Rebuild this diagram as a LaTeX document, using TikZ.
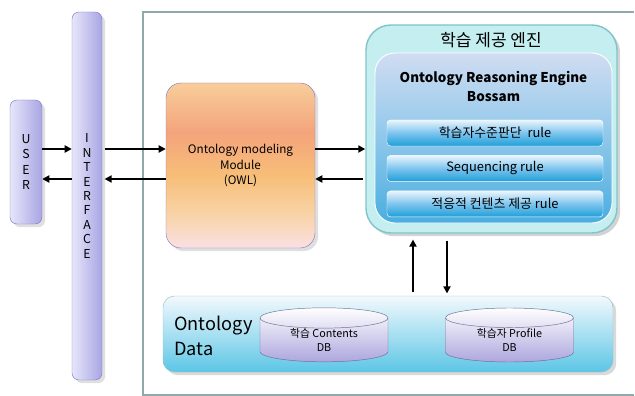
\documentclass[tikz,border=0pt]{standalone}
\usepackage{fontspec}
\setmainfont{Noto Sans CJK KR}
\usetikzlibrary{arrows.meta,shapes.geometric,shadows,positioning}
\def\pxu{0.03cm}
\definecolor{lavleft}{HTML}{E6E6FA}
\definecolor{lavright}{HTML}{A9A5E3}
\definecolor{lavline}{HTML}{7D74CC}
\definecolor{modline}{HTML}{8A7CC8}
\definecolor{modA}{HTML}{FBEBD8}
\definecolor{modB}{HTML}{FBE2EE}
\definecolor{modC}{HTML}{F8D4A8}
\definecolor{modD}{HTML}{F7BE78}
\definecolor{modE}{HTML}{F4A47C}
\definecolor{modF}{HTML}{F8D09C}
\definecolor{modG}{HTML}{FBE4E4}
\definecolor{engfill}{HTML}{C4EEF0}
\definecolor{engline}{HTML}{80C4C8}
\definecolor{inA}{HTML}{1E8CC8}
\definecolor{inB}{HTML}{4AAEE0}
\definecolor{inC}{HTML}{9CCCEC}
\definecolor{inD}{HTML}{D8DFF2}
\definecolor{inE}{HTML}{F6E8F8}
\definecolor{ruletop}{HTML}{EAF5FD}
\definecolor{rulemid}{HTML}{7CC4EE}
\definecolor{rulebot}{HTML}{1E9FD8}
\definecolor{datatop}{HTML}{F3F9FD}
\definecolor{databot}{HTML}{5CC6E6}
\definecolor{dataline}{HTML}{9ABFD0}
\definecolor{dbbot}{HTML}{ADA6DE}
\definecolor{dbline}{HTML}{707090}
\definecolor{framec}{HTML}{8FAAAA}
\pgfdeclareverticalshading{modshade}{100bp}{color(0bp)=(modA); color(23bp)=(modB); color(35bp)=(modC); color(47bp)=(modD); color(60bp)=(modE); color(76bp)=(modF); color(100bp)=(modG)}
\pgfdeclareverticalshading{innershade}{100bp}{color(0bp)=(inA); color(25bp)=(inB); color(55bp)=(inC); color(78bp)=(inD); color(100bp)=(inE)}

\begin{document}
\begin{tikzpicture}[x=\pxu, y=-\pxu,
    every node/.style={inner sep=0pt, align=center},
    arr/.style={line width=1.8pt, -{Triangle[length=6pt,width=6pt]}},
    lav/.style={draw=lavline, rounded corners=6pt, left color=lavleft, right color=lavright, drop shadow={opacity=0.25}},
    rulebox/.style={draw=white, rounded corners=3pt, top color=ruletop, bottom color=rulebot, middle color=rulemid,
        minimum width=216*\pxu, minimum height=26*\pxu, font=\fontsize{11}{13}\selectfont},
    db/.style={cylinder, shape border rotate=90, aspect=0.3, draw=dbline, top color=white, bottom color=dbbot,
        minimum width=128*\pxu, minimum height=54*\pxu, font=\fontsize{9.2}{12}\selectfont}]
    \useasboundingbox (0,0) rectangle (635,396);
    \draw[framec, line width=1pt] (634,12) -- (143,12) -- (143,395) -- (634,395);
    \node[lav, minimum width=32*\pxu, minimum height=124*\pxu, font=\fontsize{10.5}{13.2}\selectfont] (user) at (26,162) {U\\S\\E\\R};
    \node[lav, minimum width=30*\pxu, minimum height=368*\pxu, font=\fontsize{10.5}{12.3}\selectfont] (iface) at (87,196) {I\\N\\T\\E\\R\\F\\A\\C\\E};
    \node[draw=modline, rounded corners=0.45cm, shading=modshade, minimum width=149*\pxu, minimum height=165*\pxu,
        font=\fontsize{10}{13.5}\selectfont, drop shadow={opacity=0.25}] (module) at (240.5,165.5) {Ontology modeling\\Module\\(OWL)};
    \node[draw=engline, line width=1.2pt, fill=engfill, rounded corners=0.75cm, minimum width=251*\pxu, minimum height=208*\pxu,
        drop shadow={opacity=0.35}] (engine) at (491.5,129) {};
    \node[font=\fontsize{14.5}{16}\selectfont] (etitle) at (491,40) {학습 제공 엔진};
    \node[draw=white, line width=0.8pt, rounded corners=0.6cm, shading=innershade, minimum width=237*\pxu, minimum height=170*\pxu] (reason) at (493.5,138) {};
    \node[font=\bfseries\fontsize{11.5}{16}\selectfont, below=0.55cm of reason.north] (rtitle) {Ontology Reasoning Engine\\Bossam};
    \node[rulebox] (r1) at (495,133) {학습자수준판단\ \ rule};
    \node[rulebox, below=0.27cm of r1] (r2) {Sequencing rule};
    \node[rulebox, below=0.27cm of r2] (r3) {적응적 컨텐츠 제공 rule};
    \node[draw=dataline, rounded corners=0.35cm, top color=datatop, bottom color=databot, minimum width=450*\pxu, minimum height=76*\pxu,
        drop shadow={opacity=0.3}] (data) at (388,334) {};
    \node[font=\fontsize{15.5}{21}\selectfont, align=left, anchor=west] (dlabel) at (174,336) {Ontology\\Data};
    \node[db] (cdb) at (324,340) {학습 Contents\\DB};
    \node[db] (pdb) at (509.5,340) {학습자 Profile\\DB};
    \coordinate (hi) at (0,149);
    \coordinate (lo) at (0,179);
    \coordinate (vl) at (413,0);
    \coordinate (vr) at (447,0);
    \draw[arr] (user.east |- hi) -- (iface.west |- hi);
    \draw[arr] (iface.west |- lo) -- (user.east |- lo);
    \draw[arr, shorten <=2pt] (iface.east |- hi) -- (module.west |- hi);
    \draw[arr, shorten >=2pt] (module.west |- lo) -- (iface.east |- lo);
    \draw[arr] (module.east |- hi) -- (engine.west |- hi);
    \draw[arr, shorten <=2pt] (engine.west |- lo) -- (module.east |- lo);
    \draw[arr, shorten <=3pt, shorten >=5pt] (data.north -| vl) -- (engine.south -| vl);
    \draw[arr, shorten <=6pt, shorten >=2pt] (engine.south -| vr) -- (data.north -| vr);
\end{tikzpicture}
\end{document}
